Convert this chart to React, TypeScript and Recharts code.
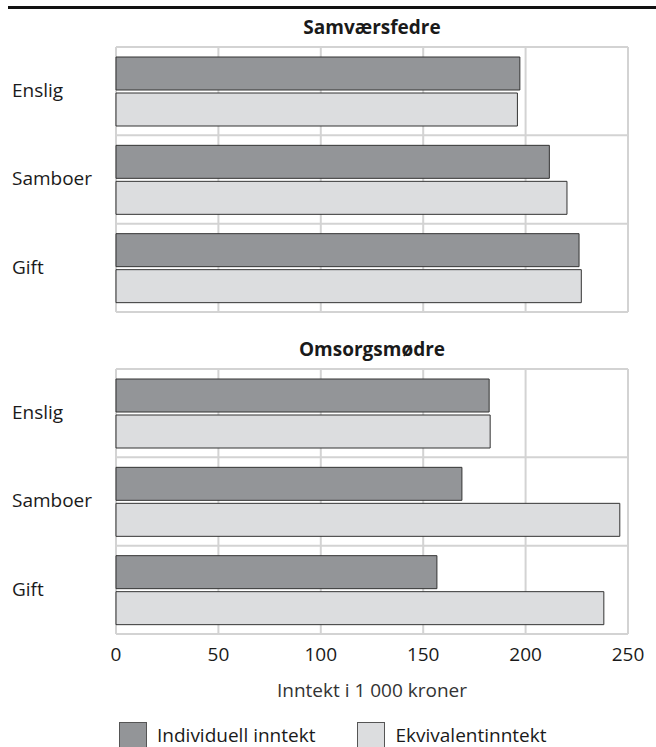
import { BarChart, Bar, XAxis, YAxis, CartesianGrid, Legend } from "recharts";

const categories = ["Enslig", "Samboer", "Gift"];
const seriesNames = ["Individuell inntekt", "Ekvivalentinntekt"];
const fedreIndividuell = [197.2, 211.6, 226.1];
const fedreEkvivalent = [196.0, 220.2, 227.2];
const modreIndividuell = [182.2, 168.9, 156.7];
const modreEkvivalent = [182.7, 246.0, 238.2];
const xTicks = [0, 50, 100, 150, 200, 250];

const FONT = "'Open Sans', 'Noto Sans', sans-serif";
const GRID = "#d3d3d3";
const DARK = "#939598";
const LIGHT = "#dcdddf";
const TEXT = "#1a1a1a";

const fedreData = categories.map((name, i) => ({
  name,
  individuell: fedreIndividuell[i],
  ekvivalent: fedreEkvivalent[i],
}));

const modreData = categories.map((name, i) => ({
  name,
  individuell: modreIndividuell[i],
  ekvivalent: modreEkvivalent[i],
}));

// horizontal grid lines sit between categories, not on them
const bandLines = ({ offset }: any) =>
  categories.map((_, i) => offset.top + (offset.height * i) / categories.length).concat(offset.top + offset.height);

const CategoryTick = ({ y, payload }: any) => (
  <text x={12} y={y} dy="0.3em" textAnchor="start" fontSize={19} fill={TEXT} fontFamily={FONT}>
    {payload.value}
  </text>
);

const LegendContent = ({ payload }: any) => {
  const items = [...(payload || [])].sort((a: any, b: any) => seriesNames.indexOf(a.value) - seriesNames.indexOf(b.value));
  return (
    <div style={{ display: "flex", paddingLeft: 119, paddingTop: 15, height: 40, boxSizing: "border-box", fontFamily: FONT }}>
      {items.map((p: any, i: number) => (
        <div key={i} style={{ display: "flex", alignItems: "center", marginRight: 42 }}>
          <span
            style={{
              width: 28,
              height: 26,
              background: p.payload?.fill ?? p.color,
              border: "1px solid #555",
              boxSizing: "border-box",
              marginRight: 10,
            }}
          />
          <span style={{ fontSize: 19, color: TEXT }}>{p.value}</span>
        </div>
      ))}
    </div>
  );
};

function Panel({ data, top, bottomAxis }: { data: any[]; top: number; bottomAxis: boolean }) {
  return (
    <div style={{ position: "absolute", left: 0, top }}>
      <BarChart
        width={656}
        height={bottomAxis ? 425 : 320}
        data={data}
        layout="vertical"
        margin={{ top: 47, right: 28, bottom: bottomAxis ? 0 : 8, left: 0 }}
        barCategoryGap={10}
        barGap={3}
      >
        <CartesianGrid stroke={GRID} strokeWidth={2} horizontalCoordinatesGenerator={bandLines} />
        <XAxis
          type="number"
          domain={[0, 250]}
          ticks={xTicks}
          hide={!bottomAxis}
          axisLine={false}
          tickLine={false}
          tickSize={0}
          tickMargin={14}
          height={73}
          tick={{ fontSize: 19, fill: TEXT, fontFamily: FONT }}
          label={{
            value: "Inntekt i 1 000 kroner",
            position: "insideBottom",
            offset: 10,
            fontSize: 19,
            fill: "#333",
            fontFamily: FONT,
          }}
        />
        <YAxis type="category" dataKey="name" width={116} axisLine={false} tickLine={false} tick={<CategoryTick />} />
        {bottomAxis && <Legend verticalAlign="bottom" content={<LegendContent />} wrapperStyle={{ left: 0, width: 656 }} />}
        <Bar dataKey="individuell" name={seriesNames[0]} fill={DARK} stroke="#333" strokeWidth={1} isAnimationActive={false} />
        <Bar dataKey="ekvivalent" name={seriesNames[1]} fill={LIGHT} stroke="#333" strokeWidth={1} isAnimationActive={false} />
      </BarChart>
    </div>
  );
}

const titleStyle: React.CSSProperties = {
  position: "absolute",
  left: 116,
  width: 512,
  textAlign: "center",
  fontFamily: FONT,
  fontWeight: 700,
  fontSize: 19,
  lineHeight: "26px",
  color: TEXT,
};

export default function App() {
  return (
    <div style={{ position: "relative", width: 656, height: 747, background: "#fff", overflow: "hidden" }}>
      <style>{`body{margin:0}`}</style>
      <div style={{ position: "absolute", left: 8, right: 0, top: 6, height: 3, background: "#111" }} />
      <Panel data={fedreData} top={0} bottomAxis={false} />
      <Panel data={modreData} top={322} bottomAxis={true} />
      <div style={{ ...titleStyle, top: 14 }}>Samværsfedre</div>
      <div style={{ ...titleStyle, top: 336 }}>Omsorgsmødre</div>
    </div>
  );
}
